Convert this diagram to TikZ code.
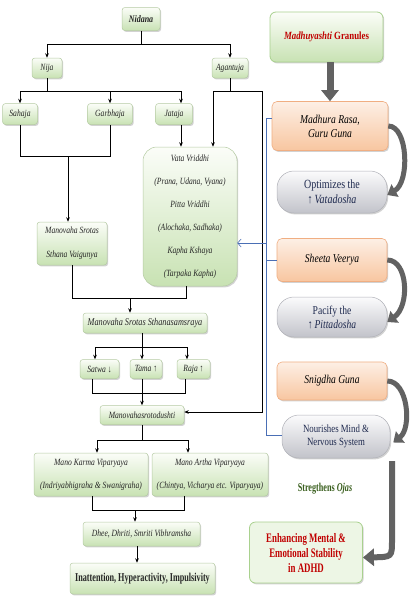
\documentclass[tikz,border=0pt]{standalone}
\usepackage{fontspec}
\setmainfont{Liberation Serif}[FakeStretch=0.8]
\newfontfamily\narrowserif{Liberation Serif}[FakeStretch=0.68]
\usetikzlibrary{shadows,arrows.meta,calc}
\definecolor{gtop}{HTML}{FBFDF8}
\definecolor{gbot}{HTML}{C8E2B3}
\definecolor{gedge}{HTML}{B5CBA3}
\definecolor{otop}{HTML}{FDEFE5}
\definecolor{obot}{HTML}{F8C6A0}
\definecolor{oedge}{HTML}{F0AE82}
\definecolor{ptop}{HTML}{FBFBFC}
\definecolor{pbot}{HTML}{C2C3CA}
\definecolor{pedge}{HTML}{B0B1B8}
\definecolor{navy}{HTML}{1F2A4F}
\definecolor{dred}{HTML}{C00000}
\definecolor{dgreen}{HTML}{3A5F1E}
\definecolor{blueln}{HTML}{4A6FB5}
\definecolor{bigarr}{HTML}{626262}
\definecolor{enhfill}{HTML}{EDF6E5}
\definecolor{enhedge}{HTML}{A9D18E}
\begin{document}
\begin{tikzpicture}[x=1pt,y=-1pt,
  sz/.style 2 args={minimum width=#1pt, minimum height=#2pt},
  shd/.style={drop shadow={shadow xshift=1.2pt,shadow yshift=-1.4pt,opacity=0.35}},
  gbox/.style={draw=gedge, line width=0.5pt, rounded corners=3pt, top color=gtop, bottom color=gbot, shd, inner sep=1pt, align=center, text=black!85, font=\fontsize{9.5}{11}\selectfont\itshape},
  obox/.style={draw=oedge, line width=0.6pt, rounded corners=5pt, top color=otop, bottom color=obot, shd, inner sep=1pt, align=center, font=\fontsize{12}{14}\selectfont\itshape},
  pbox/.style={draw=pedge, line width=0.5pt, rounded corners=17pt, top color=ptop, bottom color=pbot, shd, inner sep=1pt, align=center, text=navy, font=\fontsize{11}{13}\selectfont},
  ln/.style={line width=0.7pt, black},
  arr/.style={ln, -{Stealth[length=4.5pt,width=3.6pt]}},
  bln/.style={line width=0.6pt, blueln},
  barr/.style={bln, -{Straight Barb[length=3.5pt,width=8pt]}},
  bigar/.style={line width=5pt, draw=bigarr, -{Triangle[length=9pt,width=14pt]}}
]
\fill[white] (0,0) rectangle (412,600);
\useasboundingbox (0,0) rectangle (412,600);

% ---------- left nodes ----------
\node[gbox, sz={38}{23}, font=\fontsize{10}{12}\selectfont\bfseries\itshape] (nid) at (141,19) {Nidana};
\node[gbox, sz={30}{20}] (nija) at (47,68) {Nija};
\node[gbox, sz={36}{20}] (agan) at (230,68) {Agantuja};
\node[gbox, sz={35}{21}] (sah) at (20,114) {Sahaja};
\node[gbox, sz={45}{21}] (gar) at (110,114) {Garbhaja};
\node[gbox, sz={37}{21}] (jat) at (174,114) {Jataja};
\node[gbox, sz={70}{43}, font=\fontsize{9.5}{24}\selectfont\itshape] (mssv) at (72,243.5) {Manovaha Srotas\\Sthana Vaigunya};
\node[gbox, rounded corners=14pt, sz={94}{139}, font=\fontsize{9.5}{23}\selectfont\itshape] (vata) at (190,216.5)
  {Vata Vriddhi\\(Prana, Udana, Vyana)\\Pitta Vriddhi\\(Alochaka, Sadhaka)\\Kapha Kshaya\\(Tarpaka Kapha)};
\node[gbox, sz={124}{20}, font=\fontsize{10.3}{12}\selectfont\itshape] (msss) at (145,323) {Manovaha Srotas Sthanasamsraya};
\node[gbox, sz={39}{19}] (satwa) at (99.5,369) {Satwa {\upshape\bfseries ↓}};
\node[gbox, sz={32}{19}] (tama) at (146,369) {Tama {\upshape\bfseries ↑}};
\node[gbox, sz={33}{19}] (raja) at (193.5,369) {Raja {\upshape\bfseries ↑}};
\node[gbox, sz={84}{19}] (mvd) at (142,415) {Manovahasrotodushti};
\node[gbox, sz={114}{43}, font=\fontsize{9.5}{23}\selectfont\itshape] (mk) at (91,474.5) {Mano Karma Viparyaya\\(Indriyabhigraha \& Swanigraha)};
\node[gbox, sz={116}{43}, font=\fontsize{9.5}{23}\selectfont\itshape] (ma) at (210,474.5) {Mano Artha Viparyaya\\(Chintya, Vicharya etc. Viparyaya)};
\node[gbox, sz={117}{24}] (dhee) at (141.5,534) {Dhee, Dhriti, Smriti Vibhramsha};
\node[gbox, sz={145}{31}, font=\narrowserif\fontsize{12}{14}\selectfont\bfseries] (inatt) at (142.5,578.5) {Inattention, Hyperactivity, Impulsivity};

% ---------- right nodes ----------
\node[draw=enhedge, line width=0.8pt, rounded corners=6pt, top color=gtop, bottom color=gbot, shd, sz={113}{50}, align=center, text=dred, font=\fontsize{11}{13}\selectfont\bfseries] (madhu) at (326.5,37) {\textit{Madhuyashti} Granules};
\node[obox, sz={116}{49}] (madhura) at (330,126) {Madhura Rasa,\\Guru Guna};
\node[pbox, sz={110}{42}, font=\fontsize{12.5}{14.5}\selectfont] (optim) at (332,192) {Optimizes the\\↑\,\textit{Vatadosha}};
\node[obox, sz={110}{43}] (sheeta) at (332,260) {Sheeta Veerya};
\node[pbox, sz={110}{40}, font=\fontsize{12}{14}\selectfont] (pacify) at (332,317) {Pacify the\\↑\,\textit{Pittadosha}};
\node[obox, sz={110}{38}] (snig) at (332,381) {Snigdha Guna};
\node[pbox, sz={108}{43}] (nour) at (336,436.5) {Nourishes Mind \&\\Nervous System};
\node[draw=enhedge, line width=0.8pt, rounded corners=6pt, fill=enhfill, shd, sz={113}{61}, align=center, text=dred, font=\narrowserif\fontsize{13}{15}\selectfont\bfseries] (enh) at (306,552.5) {Enhancing Mental \&\\Emotional Stability\\in ADHD};
\node[text=dgreen, font=\narrowserif\fontsize{12}{14}\selectfont\bfseries] (str) at (325,489) {Stregthens \textit{Ojas}};

% ---------- left connectors ----------
\coordinate (j1) at (141,44);
\draw[ln] (nid) -- (j1);
\draw[arr] (j1) -| (nija);
\draw[arr] (j1) -| (agan);

\coordinate (j2) at (47,91);
\coordinate (c181) at (181,91);
\draw[ln] (nija) -- (j2);
\draw[ln] (sah.north |- j2) -- (c181);
\draw[arr] (j2) -| (sah);
\draw[arr] (j2) -| (gar);
\draw[arr] (c181) -- (c181 |- jat.north);
\draw[arr] (jat.south -| c181) -- (c181 |- vata.north);

\coordinate (j3) at (68,156);
\draw[ln] (sah.south) |- (j3);
\draw[ln] (gar.south) |- (j3);
\draw[arr] (j3) -- (j3 |- mssv.north);

\coordinate (j4) at (230,91);
\coordinate (a1) at (213,91);
\coordinate (a2) at (262,91);
\coordinate (a3) at (262,412);
\draw[ln] (agan) -- (j4);
\draw[ln] (a1) -- (a2);
\draw[arr] (a1) -- (a1 |- vata.north);
\draw[arr] (a2) -- (a3) -- (a3 -| mvd.east);

\coordinate (m1) at (72,298);
\coordinate (v1) at (186,298);
\coordinate (j5) at (130,298);
\draw[ln] (mssv.south) -- (m1) -- (v1) -- (v1 |- vata.south);
\draw[arr] (j5) -- (j5 |- msss.north);

\coordinate (j6) at (142,347);
\coordinate (s1) at (95,347);
\coordinate (s3) at (187,347);
\draw[ln] (msss.south -| j6) -- (j6);
\draw[ln] (s1) -- (s3);
\draw[arr] (s1) -- (s1 |- satwa.north);
\draw[arr] (j6) -- (j6 |- tama.north);
\draw[arr] (s3) -- (s3 |- raja.north);

\coordinate (t1) at (92,393);
\coordinate (t3) at (185,393);
\draw[ln] (t1 |- satwa.south) -- (t1) -- (t3) -- (t3 |- raja.south);
\draw[arr] (tama.south -| j6) -- (j6 |- mvd.north);

\coordinate (u1) at (97,440);
\coordinate (u2) at (142,440);
\coordinate (u3) at (188,440);
\draw[ln] (mvd.south -| u2) -- (u2);
\draw[ln] (u1) -- (u3);
\draw[arr] (u1) -- (u1 |- mk.north);
\draw[arr] (u3) -- (u3 |- ma.north);

\coordinate (w1) at (92,510);
\coordinate (w2) at (135,510);
\coordinate (w3) at (184,510);
\draw[ln] (w1 |- mk.south) -- (w1) -- (w3) -- (w3 |- ma.south);
\draw[arr] (w2) -- (w2 |- dhee.north);

\coordinate (z1) at (137,546);
\draw[arr] (dhee.south -| z1) -- (z1 |- inatt.north);

% ---------- blue connectors ----------
\coordinate (b1) at (266,118);
\coordinate (b2) at (266,435);
\coordinate (b3) at (266,243);
\draw[bln] (madhura.west |- b1) -- (b1) -- (b2) -- (nour.west |- b2);
\draw[bln] (b1 |- sheeta.west) -- (sheeta.west);
\draw[barr] (b3) -- (b3 -| vata.east);

% ---------- big arrows ----------
\draw[bigar, line width=7pt, -{Triangle[length=11pt,width=17pt]}] (madhura.north |- madhu.south) -- (madhura.north);
\draw[bigar] (madhura.east) .. controls (408,126) and (410,182) .. ([yshift=-3pt]optim.east);
\draw[bigar] (sheeta.east) .. controls (408,260) and (410,306) .. ([yshift=-5pt]pacify.east);
\draw[bigar] (snig.east) .. controls (408,381) and (412,428) .. ([yshift=-6pt,xshift=3pt]nour.east);
\coordinate (n1) at (392,461);
\coordinate (n2) at (392,540);
\coordinate (n3) at (392,557);
\draw[bigar, line width=6pt, -{Triangle[length=11pt,width=17pt]}] (n1) -- (n2) .. controls (n3) .. ([yshift=-5pt]enh.east);
\end{tikzpicture}
\end{document}
